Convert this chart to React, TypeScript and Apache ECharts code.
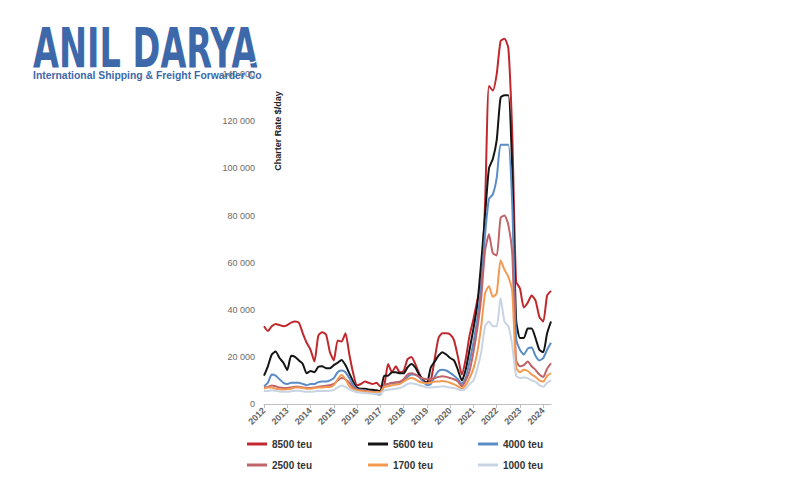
import { useEffect, useRef } from "react";
import * as echarts from "echarts";

// x domain: bi-monthly periods from Jan 2012 to May 2024
const years = ["2012", "2013", "2014", "2015", "2016", "2017", "2018", "2019", "2020", "2021", "2022", "2023", "2024"];
const monthsOfYear = ["01", "03", "05", "07", "09", "11"];
const periods = years.flatMap((y) => monthsOfYear.map((m) => `${y}-${m}`)).slice(0, 75);

const seriesNames = ["8500 teu", "5600 teu", "4000 teu", "2500 teu", "1700 teu", "1000 teu"];

const rate8500 = [
  33000, 31000, 33000, 34000, 33500, 33000, 33500, 34500, 35000, 34500, 30000, 26000,
  23000, 18000, 29000, 30500, 29500, 22000, 18500, 27000, 26500, 30000, 21000, 13000,
  8000, 8500, 9500, 9000, 8500, 9000, 7500, 8000, 17000, 13500, 16000, 13500,
  14000, 19000, 20000, 17000, 13000, 10000, 9000, 10000, 19000, 28000, 30000, 30000,
  29500, 27000, 20000, 12500, 19000, 29000, 36000, 44000, 52000, 85000, 135000, 133000,
  140000, 154000, 155000, 151000, 115000, 52000, 49000, 41000, 43000, 46000, 44000, 37000,
  35000, 46000, 48000,
];
const rate5600 = [
  12000, 16000, 21000, 22300, 19500, 17500, 14400, 20500, 20000, 18500, 17000, 13000,
  14000, 13500, 15800, 16000, 15200, 15200, 16500, 17500, 18700, 16500, 13000, 9500,
  7000, 6500, 6500, 6200, 6000, 5800, 5500, 12000, 12000, 13500, 13500, 13000,
  13000, 15500, 17000, 15500, 12500, 10000, 9000, 15500, 18000, 20500, 22000, 21000,
  19500, 18500, 14500, 10000, 14500, 23000, 32000, 42000, 60000, 80000, 100000, 104000,
  112000, 130000, 131000, 131000, 100000, 36000, 28000, 28000, 32000, 32000, 28000, 23000,
  22000, 30000, 35000,
];
const rate4000 = [
  7500, 9000, 12500, 12000, 10500, 9000, 8500, 9000, 9000, 9000, 8500, 8000,
  8500, 8500, 9300, 9500, 9500, 10000, 11000, 13500, 14200, 13500, 11000, 8000,
  6200, 6000, 5800, 5200, 4800, 4200, 4000, 8000, 8500, 8800, 9000, 9000,
  10000, 11500, 12500, 12500, 11500, 9500, 8000, 8500, 11500, 14000, 14500, 14200,
  13200, 12000, 10500, 8500, 11000, 18000, 26000, 36000, 50000, 72000, 87000, 89000,
  96000, 110000, 110000, 110000, 85000, 28000, 23000, 21000, 23500, 24000, 20500, 18500,
  19500, 23000, 26000,
];
const rate2500 = [
  7000, 7200, 7800, 7500, 7000, 6800, 6800, 7000, 7300, 7300, 7000, 6800,
  6800, 7000, 7300, 7500, 7800, 8000, 8500, 10000, 11000, 10500, 9000, 7000,
  6000, 5800, 5500, 5300, 5000, 5000, 5000, 8000, 8500, 9000, 9200, 9500,
  10500, 12500, 13000, 12500, 11500, 10800, 10500, 10500, 11000, 11500, 11800, 11500,
  11000, 10500, 9500, 7500, 10000, 14000, 22000, 32000, 45000, 65000, 72000, 64000,
  63000, 79000, 80000, 76000, 64000, 18500, 16000, 16500, 18000, 16000, 14500, 12500,
  11500, 15000, 17300,
];
const rate1700 = [
  6500, 7000, 7000, 6500, 6300, 6200, 6300, 6500, 7000, 7000, 6800, 6500,
  6500, 6800, 7000, 7000, 7200, 7200, 8000, 10500, 12300, 10500, 7500, 6300,
  5800, 5500, 5300, 5200, 5000, 5000, 5000, 7200, 7500, 8000, 8200, 8500,
  9500, 10500, 11000, 10500, 9500, 9000, 8800, 9000, 9500, 9500, 9800, 9500,
  9000, 8300, 7500, 6500, 8000, 11000, 15000, 22000, 33000, 47000, 50000, 45500,
  47000, 61000, 57000, 54000, 48000, 15500, 13500, 14500, 14000, 12500, 11500, 10000,
  9500, 12000, 13000,
];
const rate1000 = [
  5500, 5500, 5800, 5600, 5300, 5200, 5200, 5400, 5600, 5600, 5400, 5200,
  5200, 5300, 5500, 5500, 5500, 5600, 6000, 7000, 7800, 7300, 6200, 5500,
  5000, 4800, 4600, 4500, 4400, 4300, 4300, 5800, 6000, 6300, 6500, 6800,
  7500, 8500, 8800, 8500, 8000, 7500, 7000, 7000, 7200, 7300, 7500, 7300,
  7000, 6800, 6300, 5800, 6500, 8500, 10000, 15000, 22000, 33000, 35000, 33000,
  33000, 45000, 35000, 33000, 25000, 12000, 11000, 11200, 11000, 10000, 9500, 8000,
  7300, 9000, 10000,
];

const seriesValues = [rate8500, rate5600, rate4000, rate2500, rate1700, rate1000];
const seriesColors = ["#c0282e", "#141414", "#5a8cc6", "#c0646a", "#f39a52", "#c8d4e3"];

const legendPos = [
  { left: 242, top: 434 },
  { left: 363, top: 434 },
  { left: 473, top: 434 },
  { left: 242, top: 455 },
  { left: 363, top: 455 },
  { left: 473, top: 455 },
];

const fmt = (v: number) => String(v).replace(/\B(?=(\d{3})+(?!\d))/g, " ");

export default function App() {
  const ref = useRef<HTMLDivElement>(null);
  useEffect(() => {
    if (!ref.current) return;
    const chart = echarts.init(ref.current, null, { renderer: "svg" });
    const blue = "#3d69ab";
    chart.setOption({
      animation: false,
      backgroundColor: "#ffffff",
      textStyle: { fontFamily: "Liberation Sans" },
      grid: { left: 264, right: 249, top: 27, bottom: 96 },
      xAxis: {
        type: "category",
        data: periods,
        boundaryGap: false,
        axisLine: { show: true, lineStyle: { color: "#bfbfbf", width: 1 } },
        axisTick: { show: true, interval: (i: number) => i % 6 === 0, length: 4, lineStyle: { color: "#bfbfbf" } },
        axisLabel: {
          interval: (i: number) => i % 6 === 0,
          rotate: 45,
          formatter: (v: string) => v.slice(0, 4),
          fontSize: 9,
          fontWeight: "bold",
          color: "#666666",
          margin: 5,
        },
        splitLine: { show: false },
      },
      yAxis: {
        type: "value",
        min: 0,
        max: 160000,
        interval: 20000,
        axisLine: { show: false },
        axisTick: { show: false },
        splitLine: { show: false },
        axisLabel: {
          formatter: (v: number) => (v === 160000 ? "" : fmt(v)),
          fontSize: 9,
          color: "#6a6a6a",
          margin: 9,
        },
      },
      legend: seriesNames.map((name, k) => ({
        data: [name],
        left: legendPos[k].left,
        top: legendPos[k].top,
        icon: "rect",
        itemWidth: 20,
        itemHeight: 3,
        textStyle: { fontSize: 10, fontWeight: "bold", color: "#333333", fontFamily: "Liberation Sans" },
      })),
      series: seriesNames.map((name, k) => ({
        name,
        type: "line",
        data: seriesValues[k],
        showSymbol: false,
        symbol: "none",
        smooth: 0.2,
        lineStyle: { width: 2, color: seriesColors[k] },
        itemStyle: { color: seriesColors[k] },
      })),
      graphic: [
        {
          type: "text",
          x: 33,
          y: 48,
          scaleX: 0.61,
          z: 10,
          style: {
            text: "ANIL DARYA",
            fontSize: 55,
            fontWeight: "bold",
            fontFamily: "DejaVu Sans",
            fill: blue,
            textAlign: "left",
            textVerticalAlign: "middle",
          },
        },
        {
          type: "bezierCurve",
          z: 10,
          shape: { x1: 240, y1: 63, cpx1: 245, cpy1: 59, cpx2: 250, cpy2: 66, x2: 256, y2: 61 },
          style: { stroke: "#ffffff", lineWidth: 1.5, fill: "none" },
        },
        {
          type: "text",
          x: 33,
          y: 75,
          z: 10,
          style: {
            text: "International Shipping & Freight Forwarder Co",
            fontSize: 10.4,
            fontWeight: "bold",
            fontFamily: "Liberation Sans",
            fill: blue,
            textAlign: "left",
            textVerticalAlign: "middle",
          },
        },
        {
          type: "text",
          x: 278,
          y: 131,
          rotation: Math.PI / 2,
          style: {
            text: "Charter Rate $/day",
            fontSize: 9,
            fontWeight: "bold",
            fontFamily: "Liberation Sans",
            fill: "#222222",
            textAlign: "center",
            textVerticalAlign: "middle",
          },
        },
      ],
    });
    return () => chart.dispose();
  }, []);
  return <div ref={ref} style={{ position: "fixed", left: 0, top: 0, width: 800, height: 500 }} />;
}
